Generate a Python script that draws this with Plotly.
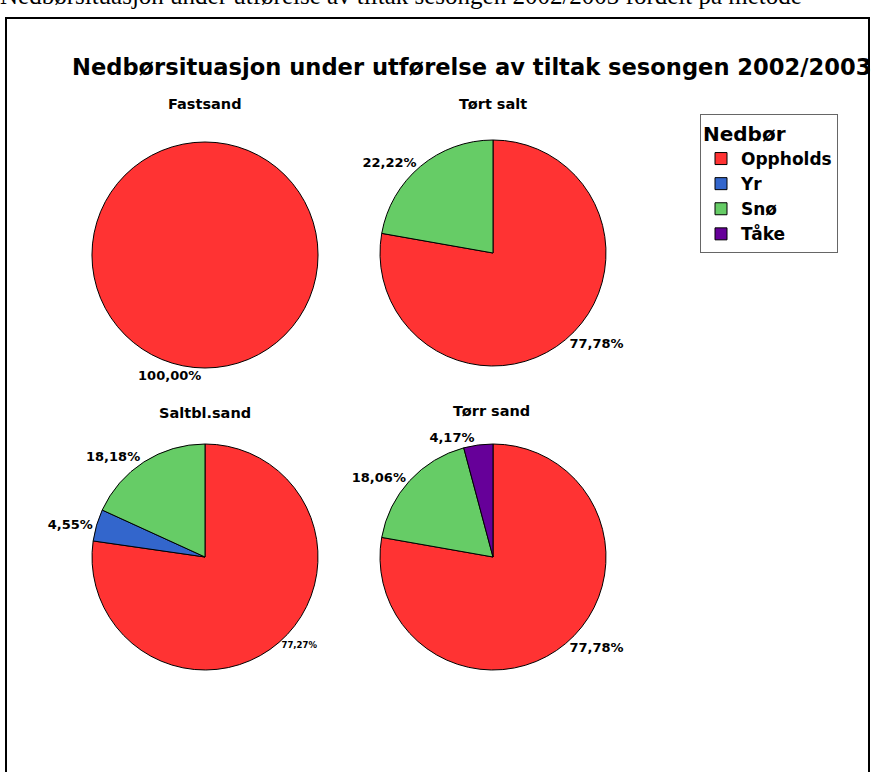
import plotly.graph_objects as go

W, H = 874, 772

# Precipitation categories and their slice colours
categories = ["Oppholds", "Yr", "Snø", "Tåke"]
cat_colors = ["#FF3333", "#3366CC", "#66CC66", "#660099"]

# Share of operations (%) per method, by precipitation type
methods = ["Saltbl.sand", "Tørr sand", "Fastsand", "Tørt salt"]
labels_by_method = {
    "Fastsand": ["Oppholds"],
    "Tørt salt": ["Oppholds", "Snø"],
    "Saltbl.sand": ["Oppholds", "Yr", "Snø"],
    "Tørr sand": ["Oppholds", "Snø", "Tåke"],
}
values_by_method = {
    "Fastsand": [100.00],
    "Tørt salt": [77.78, 22.22],
    "Saltbl.sand": [77.27, 4.55, 18.18],
    "Tørr sand": [77.78, 18.06, 4.17],
}
label_sizes = {
    "Fastsand": [13],
    "Tørt salt": [13, 13],
    "Saltbl.sand": [8.5, 13, 13],
    "Tørr sand": [13, 13, 13],
}

# Pie centre (px) for each panel and shared radius (px)
centers = {
    "Fastsand": (205, 255),
    "Tørt salt": (493, 253),
    "Saltbl.sand": (205, 557),
    "Tørr sand": (493, 557),
}
title_pos = {
    "Fastsand": (205, 104),
    "Tørt salt": (493, 104),
    "Saltbl.sand": (205, 413),
    "Tørr sand": (492, 411),
}
R = 113

FONT = "DejaVu Sans, Arial, sans-serif"
color_map = dict(zip(categories, cat_colors))


def fmt(v):
    return f"{v:.2f}".replace(".", ",") + "%"


fig = go.Figure()
for m in methods:
    cx, cy = centers[m]
    labs = labels_by_method[m]
    vals = values_by_method[m]
    fig.add_trace(go.Pie(
        labels=labs,
        values=vals,
        text=[fmt(v) for v in vals],
        textinfo="text",
        textposition="outside",
        textfont=dict(family=FONT, size=label_sizes[m], color="black", weight="bold"),
        marker=dict(colors=[color_map[l] for l in labs], line=dict(color="black", width=1)),
        sort=False,
        direction="clockwise",
        rotation=0,
        hoverinfo="label+percent",
        domain=dict(x=[(cx - R) / W, (cx + R) / W], y=[1 - (cy + R) / H, 1 - (cy - R) / H]),
        name=m,
    ))

annotations = []
for m, (tx, ty) in title_pos.items():
    annotations.append(dict(
        x=tx / W, y=1 - ty / H, xref="paper", yref="paper",
        text=f"<b>{m}</b>", showarrow=False,
        font=dict(family=FONT, size=14.5, color="black"),
        xanchor="center", yanchor="middle",
    ))

annotations.append(dict(
    x=70 / W, y=1 - 67 / H, xref="paper", yref="paper",
    text="<b>Nedbørsituasjon under utførelse av tiltak sesongen 2002/2003</b>",
    showarrow=False, font=dict(family=FONT, size=22.6, color="black"),
    xanchor="left", yanchor="middle",
))

# Caption line from the surrounding document, partly above the page edge
annotations.append(dict(
    x=-2 / W, y=1 - 11 / H, xref="paper", yref="paper",
    text="Nedbørsituasjon under utførelse av tiltak sesongen 2002/2003 fordelt på metode",
    showarrow=False, font=dict(family="Liberation Serif, Times New Roman, serif", size=25, color="black"),
    xanchor="left", yanchor="bottom",
))

fig.update_layout(
    width=W, height=H,
    margin=dict(l=0, r=0, t=0, b=0),
    paper_bgcolor="white",
    plot_bgcolor="white",
    annotations=annotations,
    shapes=[dict(
        type="rect", xref="paper", yref="paper",
        x0=6 / W, x1=869 / W, y0=-0.05, y1=1 - 18 / H,
        line=dict(color="black", width=2),
    )],
    legend=dict(
        title=dict(text="<b>Nedbør</b>", font=dict(family=FONT, size=20, color="black")),
        font=dict(family=FONT, size=17, color="black", weight="bold"),
        x=700 / W, y=1 - 114 / H, xanchor="left", yanchor="top",
        bgcolor="white", bordercolor="#666666", borderwidth=1,
        itemwidth=30, tracegroupgap=0,
    ),
)

fig.write_html("out.html")
